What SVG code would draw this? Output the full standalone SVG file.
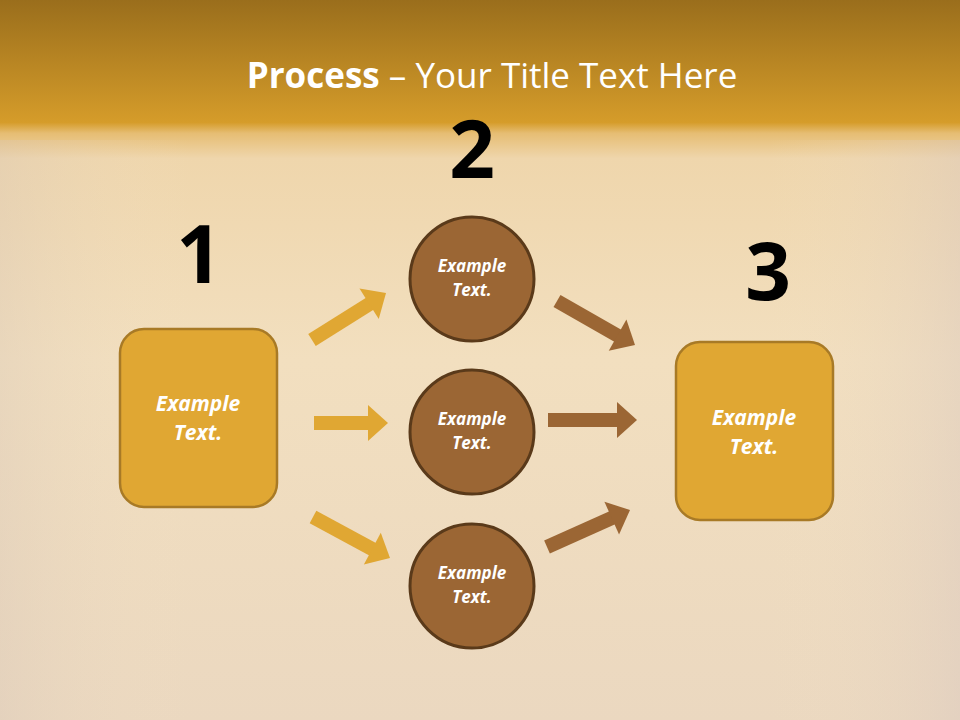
<svg xmlns="http://www.w3.org/2000/svg" width="960" height="720" viewBox="0 0 960 720">
<defs>
<linearGradient id="bg" x1="0" y1="0" x2="0" y2="1">
<stop offset="0" stop-color="#9a6e1c"/>
<stop offset="0.17" stop-color="#d59c2a"/>
<stop offset="0.185" stop-color="#e6bd73"/>
<stop offset="0.22" stop-color="#efd6ac"/>
<stop offset="0.5" stop-color="#f2dfbf"/>
<stop offset="1" stop-color="#ebd8c0"/>
</linearGradient>
<linearGradient id="side" x1="0" y1="0" x2="1" y2="0">
<stop offset="0" stop-color="#d8c7b8" stop-opacity="0.35"/>
<stop offset="0.2" stop-color="#f5e3c4" stop-opacity="0"/>
<stop offset="0.8" stop-color="#f5e3c4" stop-opacity="0"/>
<stop offset="1" stop-color="#d8c7c0" stop-opacity="0.4"/>
</linearGradient>
<path id="arr" d="M0,0 L-20,-18 L-20,18 Z"/>
</defs>
<style>
.box{fill:#e0a733;stroke:#a87a26;stroke-width:2.5}
.cir{fill:#9b6634;stroke:#5a3a1a;stroke-width:3}
.num{font-family:"Open Sans","DejaVu Sans",sans-serif;font-weight:bold;font-size:80px;fill:#000;text-anchor:middle}
.bt{font-family:"Open Sans","DejaVu Sans",sans-serif;font-weight:bold;font-style:italic;font-size:21px;fill:#fff;text-anchor:middle}
.ct{font-family:"Open Sans","DejaVu Sans",sans-serif;font-weight:bold;font-style:italic;font-size:17px;fill:#fff;text-anchor:middle}
.ga{fill:#e0a733}
.ba{fill:#9b6634}
.gs{stroke:#e0a733;stroke-width:14;fill:none}
.bs{stroke:#9b6634;stroke-width:14;fill:none}
</style>
<rect x="0" y="0" width="960" height="720" fill="url(#bg)"/>
<rect x="0" y="140" width="960" height="580" fill="url(#side)"/>
<text x="492" y="88" font-family="Open Sans, DejaVu Sans, sans-serif" font-size="35" fill="#fff" text-anchor="middle"><tspan font-weight="bold">Process</tspan> – Your Title Text Here</text>

<g id="connectors">
<path class="gs" d="M312,340 L371,303"/>
<use href="#arr" class="ga" transform="translate(386,293) rotate(-32.4)"/>
<path class="gs" d="M314,423 L370,423"/>
<use href="#arr" class="ga" transform="translate(388,423)"/>
<path class="gs" d="M313,517 L374,550"/>
<use href="#arr" class="ga" transform="translate(390,558) rotate(28)"/>
<path class="bs" d="M557,301 L620,337"/>
<use href="#arr" class="ba" transform="translate(635,345) rotate(29.4)"/>
<path class="bs" d="M548,420 L619,420"/>
<use href="#arr" class="ba" transform="translate(637,420)"/>
<path class="bs" d="M547,547 L614,517"/>
<use href="#arr" class="ba" transform="translate(630,510) rotate(-24)"/>
</g>

<g id="node1">
<text class="num" x="199" y="283">1</text>
<rect class="box" x="120" y="329" width="157" height="178" rx="24"/>
<text class="bt" x="198" y="411">Example</text>
<text class="bt" x="198" y="440">Text.</text>
</g>
<g id="node2">
<text class="num" x="472" y="178">2</text>
</g>
<g id="node2a">
<circle class="cir" cx="472" cy="279" r="62"/>
<text class="ct" x="472" y="272">Example</text>
<text class="ct" x="472" y="296">Text.</text>
</g>
<g id="node2b">
<circle class="cir" cx="472" cy="432" r="62"/>
<text class="ct" x="472" y="425">Example</text>
<text class="ct" x="472" y="449">Text.</text>
</g>
<g id="node2c">
<circle class="cir" cx="472" cy="586" r="62"/>
<text class="ct" x="472" y="579">Example</text>
<text class="ct" x="472" y="603">Text.</text>
</g>
<g id="node3">
<text class="num" x="768" y="300">3</text>
<rect class="box" x="676" y="342" width="157" height="178" rx="24"/>
<text class="bt" x="754" y="425">Example</text>
<text class="bt" x="754" y="454">Text.</text>
</g>
</svg>
